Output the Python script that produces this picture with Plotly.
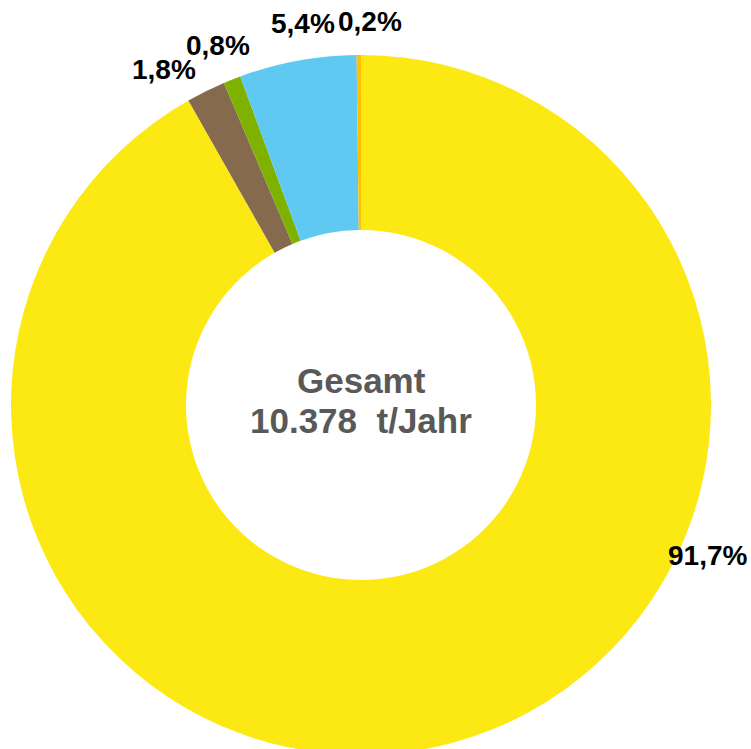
import plotly.graph_objects as go

W, H = 751, 760  # page clipped to 749 by the window; donut runs off the bottom like the reference

categories = ["Kategorie A", "Kategorie B", "Kategorie C", "Kategorie D", "Kategorie E"]
shares = [91.7, 1.8, 0.8, 5.4, 0.2]
label_texts = ["91,7%", "1,8%", "0,8%", "5,4%", "0,2%"]
colors = ["#FCE813", "#856A4E", "#7FB100", "#5FC9F1", "#FFC000"]
center_lines = ["Gesamt", "10.378  t/Jahr"]

# label anchor positions (pixels from top-left)
label_pos = [(707, 555), (164, 70), (218, 46), (303, 23), (370, 21)]

cx, cy, r_out = 361, 405, 350

fig = go.Figure(go.Pie(
    labels=categories,
    values=shares,
    sort=False,
    direction="clockwise",
    rotation=0,
    hole=0.5,
    marker=dict(colors=colors, line=dict(width=0)),
    textinfo="none",
    hoverinfo="label+percent",
    showlegend=False,
    domain=dict(x=[(cx - r_out) / W, (cx + r_out) / W],
                y=[1 - (cy + r_out) / H, 1 - (cy - r_out) / H]),
))

annotations = []
for txt, (px, py) in zip(label_texts, label_pos):
    annotations.append(dict(
        x=px / W, y=1 - py / H, xref="paper", yref="paper",
        text="<b>" + txt + "</b>", showarrow=False, xanchor="center", yanchor="middle",
        font=dict(family="Liberation Sans, Arial, sans-serif", size=28, color="#000000"),
    ))
for txt, py in zip(center_lines, [381, 420]):
    annotations.append(dict(
        x=cx / W, y=1 - py / H, xref="paper", yref="paper",
        text="<b>" + txt + "</b>", showarrow=False, xanchor="center", yanchor="middle",
        font=dict(family="Liberation Sans, Arial, sans-serif", size=35, color="#595959"),
    ))

fig.update_layout(
    width=W, height=H,
    margin=dict(l=0, r=0, t=0, b=0),
    paper_bgcolor="white",
    plot_bgcolor="white",
    annotations=annotations,
)

fig.write_html(
    "out.html",
    config={"displayModeBar": False},
    post_script="document.body.style.margin='0';document.body.style.overflow='hidden';",
)
